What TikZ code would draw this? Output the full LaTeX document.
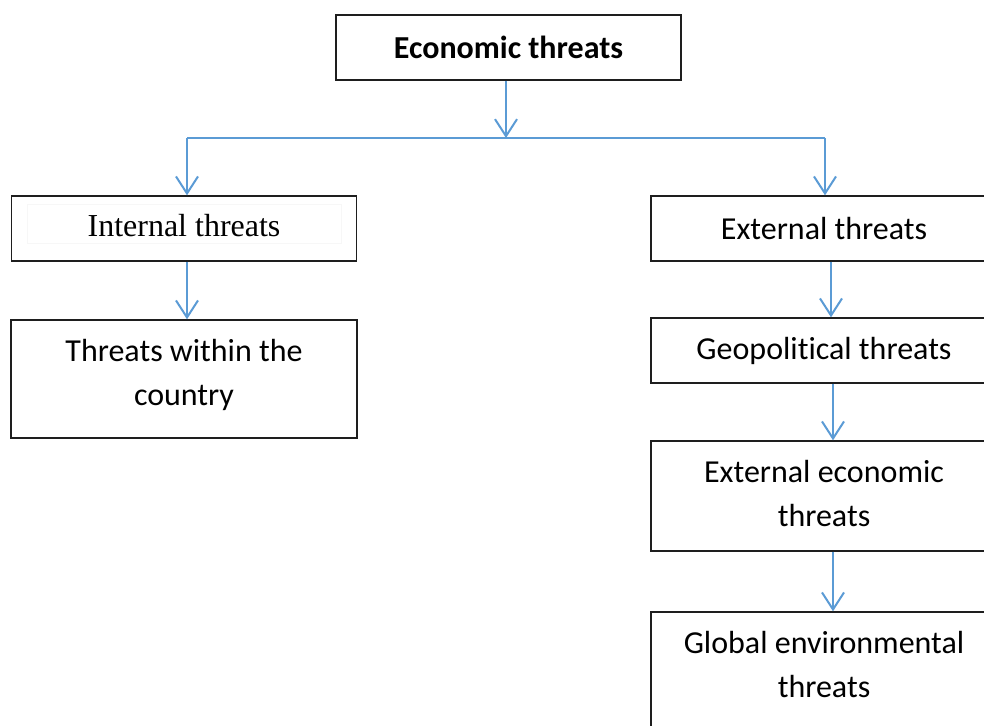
\documentclass[tikz,border=0pt]{standalone}
\usepackage{fontspec}
\setmainfont[Ligatures=NoCommon]{Carlito}
\newfontfamily\tnr{Liberation Serif}
\usetikzlibrary{arrows.meta}
\definecolor{arrblue}{RGB}{91,155,213}
\definecolor{boxline}{RGB}{30,30,30}
\tikzset{
  box/.style={draw=boxline, line width=1.4pt, rectangle, inner sep=0pt, align=center,
    font=\fontsize{32}{44}\selectfont},
  txt/.style={inner sep=0pt, align=center, font=\fontsize{32}{44}\selectfont},
  arr/.style={draw=arrblue, line width=2pt, -{Straight Barb[length=17pt,width=22pt,line width=2pt]}},
  link/.style={draw=arrblue, line width=2pt}
}
\begin{document}
\begin{tikzpicture}[x=1pt,y=-1pt]
\useasboundingbox (0,0) rectangle (984,725);
\node[box, minimum width=345pt, minimum height=65pt, font=\fontsize{32}{44}\selectfont\bfseries] (econ) at (508.5,47.5) {Economic threats};
\node[box, minimum width=345pt, minimum height=65pt] (int) at (184,228.5) {};
\draw[black!5, line width=0.6pt] (27,243) -- (341,243);
\draw[black!3, line width=0.6pt] (27,204) rectangle (341,243);
\node[txt, font=\fontsize{32}{44}\selectfont\tnr] (intt) at (184,226) {Internal threats};
\node[box, minimum width=346pt, minimum height=118pt] (within) at (184,379) {};
\node[txt] (withint) at (184,375) {Threats within the\\country};
\node[box, minimum width=346pt, minimum height=65pt] (ext) at (824,228.5) {External threats};
\node[box, minimum width=346pt, minimum height=65pt] (geo) at (824,350.5) {Geopolitical threats};
\node[box, minimum width=346pt, minimum height=110pt] (exec) at (824,496) {};
\node[txt] (exect) at (824,494) {External economic\\threats};
\node[box, minimum width=346pt, minimum height=148pt] (glob) at (824,686) {};
\node[txt] (globt) at (824,664) {Global environmental\\threats};
\coordinate (j1) at (187,138);
\coordinate (j2) at (825,138);
\coordinate (jm) at (506,138);
\draw[link] (j1) -- (j2);
\draw[arr] (econ.south -| jm) -- (jm);
\draw[arr] (j1) -- (j1 |- int.north);
\draw[arr] (j2) -- (j2 |- ext.north);
\draw[arr] (int.south -| j1) -- (within.north -| j1);
\coordinate (r1) at (831,0);
\coordinate (r2) at (833,0);
\draw[arr] (ext.south -| r1) -- (geo.north -| r1);
\draw[arr] (geo.south -| r2) -- (exec.north -| r2);
\draw[arr] (exec.south -| r2) -- (glob.north -| r2);
\end{tikzpicture}
\end{document}
